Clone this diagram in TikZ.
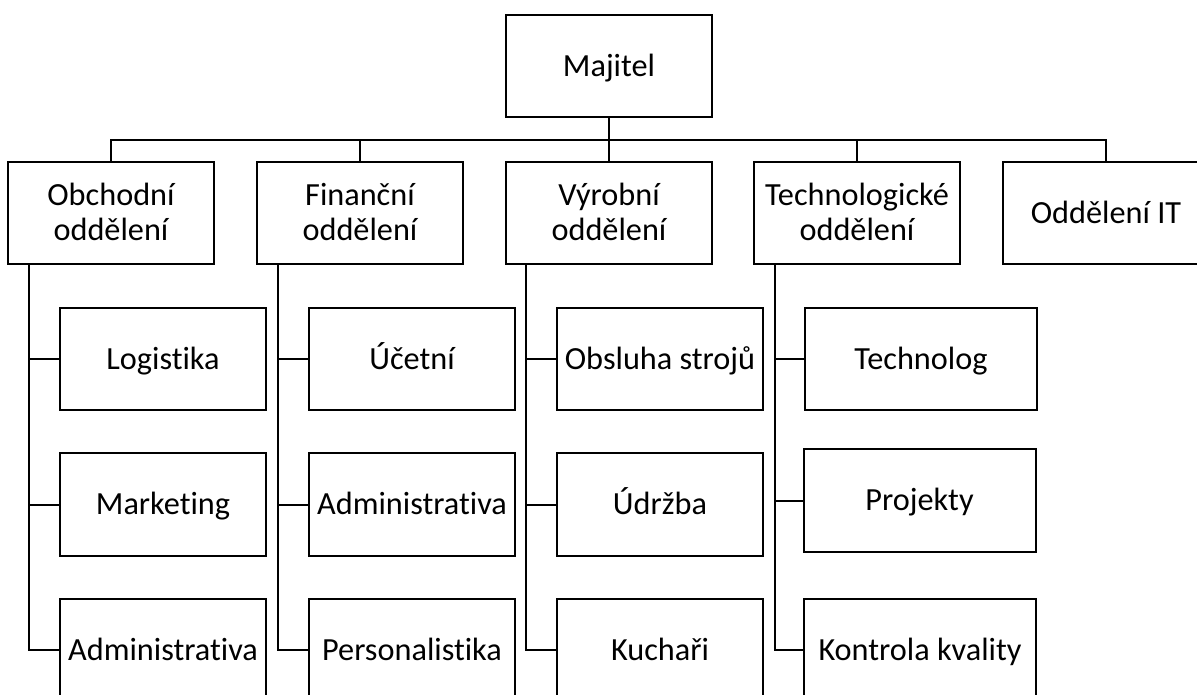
\documentclass[tikz,border=0pt]{standalone}
\usepackage{fontspec}
\setmainfont{Carlito}[Ligatures=NoCommon]

\begin{document}
\begin{tikzpicture}[x=0.75pt, y=-0.75pt,
  dept/.style={draw, line width=1.5pt, minimum width=154.5pt, minimum height=76.5pt,
    inner sep=0pt, align=center, font=\fontsize{24.2}{26.3}\selectfont,
    text height=18pt, text depth=2.4pt},
  two/.style={dept, text height=44pt, text depth=2.1pt},
  wide/.style={dept, minimum width=174pt},
  link/.style={line width=1.5pt}]
\useasboundingbox (0,0) rectangle (1197,695);
\clip (0,0) rectangle (1197,695);

% vedeni a oddeleni
\node[dept] (maj) at (609,66.5) {Majitel};
\node[two] (obch) at (111,213) {Obchodní\\oddělení};
\node[two] (fin) at (360,213) {Finanční\\oddělení};
\node[two] (vyr) at (609,213) {Výrobní\\oddělení};
\node[two] (tech) at (857,213) {Technologické\\oddělení};
\node[dept] (it) at (1106,213) {Oddělení IT};

% pozice
\node[dept] (log) at (163,359) {Logistika};
\node[dept] (mkt) at (163,504.5) {Marketing};
\node[dept] (adm) at (163,650) {Administrativa};
\node[dept] (uct) at (412,359) {Účetní};
\node[dept] (fadm) at (412,504.5) {Administrativa};
\node[dept] (pers) at (412,650) {Personalistika};
\node[dept] (stroj) at (660,359) {Obsluha strojů};
\node[dept] (udr) at (660,504.5) {Údržba};
\node[dept] (kuch) at (660,650) {Kuchaři};
\node[wide] (tlog) at (921,359) {Technolog};
\node[wide] (proj) at (919.5,500.5) {Projekty};
\node[wide] (kval) at (920,650) {Kontrola kvality};

% sbernice
\coordinate (bus) at (609,140);
\draw[link] (maj.south) -- (vyr.north);
\draw[link] (obch.north) |- (bus) -| (it.north);
\draw[link] (fin.north) -- (fin.north |- bus);
\draw[link] (tech.north) -- (tech.north |- bus);

% svisle vetve
\coordinate (v1) at (29,264);
\coordinate (v2) at (278,264);
\coordinate (v3) at (526,264);
\coordinate (v4) at (775,264);
\draw[link] (v1) |- (adm.west);
\draw[link] (log.west) -- (log.west -| v1);
\draw[link] (mkt.west) -- (mkt.west -| v1);
\draw[link] (v2) |- (pers.west);
\draw[link] (uct.west) -- (uct.west -| v2);
\draw[link] (fadm.west) -- (fadm.west -| v2);
\draw[link] (v3) |- (kuch.west);
\draw[link] (stroj.west) -- (stroj.west -| v3);
\draw[link] (udr.west) -- (udr.west -| v3);
\draw[link] (v4) |- (kval.west);
\draw[link] (tlog.west) -- (tlog.west -| v4);
\draw[link] (proj.west) -- (proj.west -| v4);
\end{tikzpicture}
\end{document}
